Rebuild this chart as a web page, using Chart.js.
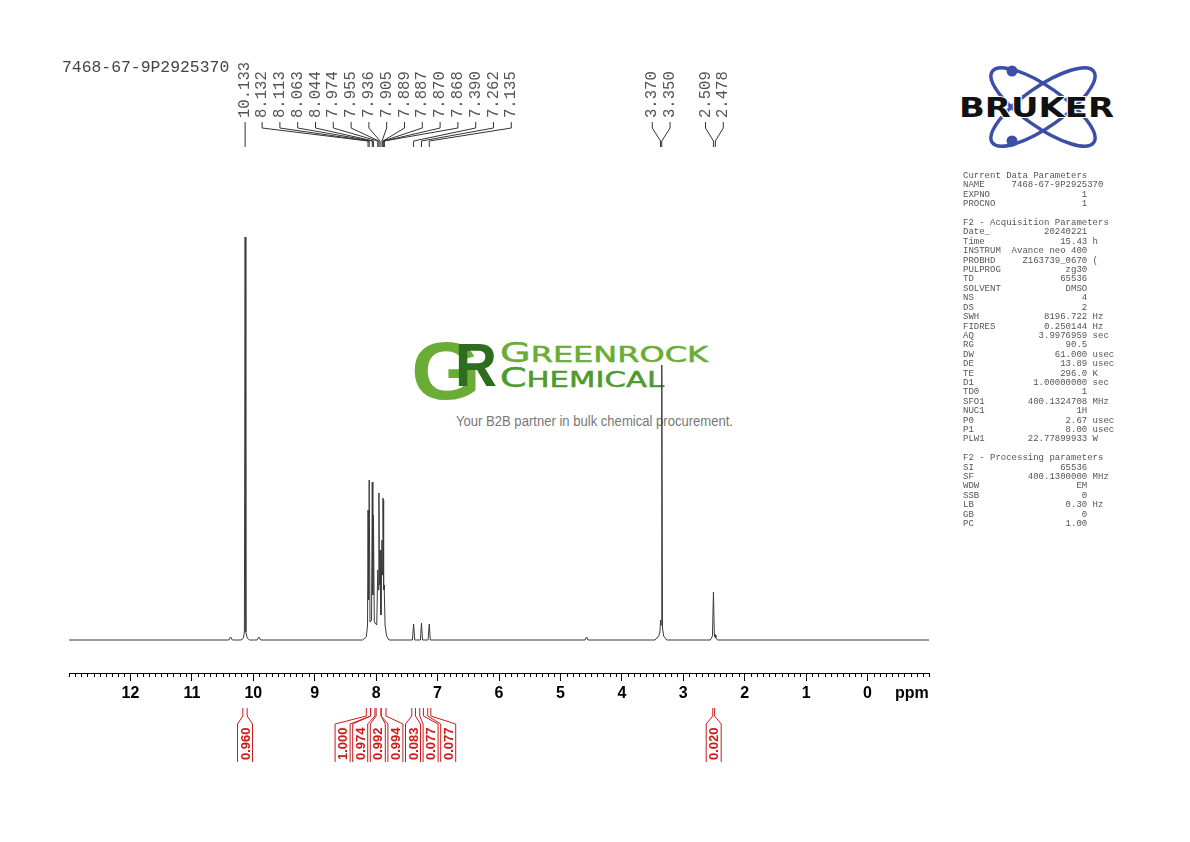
<!DOCTYPE html>
<html><head><meta charset="utf-8">
<script src="https://cdn.jsdelivr.net/npm/chart.js@4.4.1/dist/chart.umd.min.js"></script>
<style>
html,body{margin:0;padding:0;background:#fff;}
#wrap{position:relative;width:1190px;height:842px;overflow:hidden;background:#fff;}
#bg{position:absolute;left:0;top:0;z-index:1;}
#c{position:absolute;left:0;top:0;z-index:2;}
#title{position:absolute;left:62px;top:58px;font:16.4px "Liberation Mono",monospace;color:#444;z-index:3;white-space:pre;}
#params{position:absolute;left:963px;top:172px;font:9px/9.4px "Liberation Mono",monospace;color:#555;margin:0;z-index:3;}
</style></head>
<body><div id="wrap">
<svg id="bg" width="1190" height="842" xmlns="http://www.w3.org/2000/svg">
  <g>
    <ellipse cx="1043" cy="107" rx="62" ry="20" transform="rotate(35 1043 107)" fill="none" stroke="#3b4fa6" stroke-width="3.5"/>
    <ellipse cx="1043" cy="107" rx="62" ry="20" transform="rotate(-35 1043 107)" fill="none" stroke="#3b4fa6" stroke-width="3.5"/>
    <circle cx="1012" cy="71" r="5.5" fill="#3b4fa6"/>
    <circle cx="1012" cy="141" r="5.5" fill="#3b4fa6"/>
    <text x="959" y="117" font-family="DejaVu Sans" font-weight="bold" font-size="27" textLength="155" lengthAdjust="spacingAndGlyphs" fill="#111" stroke="#fff" stroke-width="2" paint-order="stroke">BRUKER</text>
  </g>
  <g>
    <text x="411" y="399" font-family="Liberation Sans" font-weight="bold" font-size="82" fill="#6aac35" textLength="70" lengthAdjust="spacingAndGlyphs">G</text>
    <text x="455" y="386" font-family="Liberation Sans" font-weight="bold" font-size="62" fill="#2e6c20" textLength="42" lengthAdjust="spacingAndGlyphs">R</text>
    <text x="500" y="362" font-family="DejaVu Sans" font-size="21" fill="#6aac35" stroke="#6aac35" stroke-width="0.5" textLength="208" lengthAdjust="spacingAndGlyphs"><tspan font-size="26">G</tspan>REENROCK</text>
    <text x="500" y="387" font-family="DejaVu Sans" font-size="21" fill="#4e9a2c" stroke="#4e9a2c" stroke-width="0.5" textLength="164" lengthAdjust="spacingAndGlyphs"><tspan font-size="26">C</tspan>HEMICAL</text>
    <text x="456" y="426" font-family="Liberation Sans" font-size="14" fill="#777" textLength="277" lengthAdjust="spacingAndGlyphs">Your B2B partner in bulk chemical procurement.</text>
  </g>
</svg>
<canvas id="c" width="1190" height="842"></canvas>
<div id="title">7468-67-9P2925370</div>
<pre id="params"></pre>
</div>
<script>
// ---------- DATA ----------
const specPpm = [13.00, 10.40, 10.37, 10.34, 10.20, 10.16, 10.145, 10.133, 10.121, 10.10, 10.06, 9.94, 9.91, 9.88,
  8.22, 8.16, 8.140, 8.132, 8.122, 8.113, 8.100, 8.075, 8.063, 8.054, 8.044, 8.030, 7.990, 7.974, 7.965, 7.955,
  7.946, 7.936, 7.922, 7.905, 7.896, 7.889, 7.887, 7.878, 7.870, 7.868, 7.855, 7.83, 7.79,
  7.41, 7.390, 7.372, 7.28, 7.262, 7.245, 7.155, 7.135, 7.118, 4.60, 4.575, 4.55,
  3.46, 3.40, 3.38, 3.370, 3.362, 3.350, 3.338, 3.32, 3.27, 2.56, 2.525, 2.509, 2.495, 2.485, 2.478, 2.470, 2.44, -1.00];
const specInt = [0, 0, 3, 0, 0, 2, 8, 403, 8, 2, 0, 0, 3, 0,
  0, 3, 15, 130, 40, 160, 18, 20, 158, 45, 125, 18, 15, 70, 50, 147,
  55, 90, 25, 100, 65, 142, 140, 50, 55, 50, 15, 4, 0,
  0, 16, 0, 0, 17, 0, 0, 16, 0, 0, 3, 0,
  0, 4, 8, 20, 15, 275, 12, 4, 0, 0, 4, 48, 6, 3, 5, 2, 0, 0];

const peakLabelPpm = [10.133, 8.132, 8.113, 8.063, 8.044, 7.974, 7.955, 7.936, 7.905, 7.889, 7.887, 7.870, 7.868,
  7.390, 7.262, 7.135, 3.370, 3.350, 2.509, 2.478];

const integralFrom = [10.17, 8.16, 8.09, 8.00, 7.92, 7.42, 7.29, 7.16, 2.52];
const integralTo   = [10.10, 8.09, 8.02, 7.92, 7.84, 7.36, 7.23, 7.11, 2.49];
const integralVal  = [0.960, 1.000, 0.974, 0.992, 0.994, 0.083, 0.077, 0.077, 0.020];

const xTickValues = [12, 11, 10, 9, 8, 7, 6, 5, 4, 3, 2, 1, 0];

const paramLines = (() => {
  const r = (l, v, u) => l + ' '.repeat(Math.max(1, 23 - l.length - v.length)) + v + (u ? ' ' + u : '');
  return [
    'Current Data Parameters',
    'NAME     7468-67-9P2925370',
    r('EXPNO', '1'), r('PROCNO', '1'), '',
    'F2 - Acquisition Parameters',
    r('Date_', '20240221'), r('Time', '15.43', 'h'), r('INSTRUM', 'Avance neo 400'),
    r('PROBHD', 'Z163739_0670', '('), r('PULPROG', 'zg30'), r('TD', '65536'), r('SOLVENT', 'DMSO'),
    r('NS', '4'), r('DS', '2'), r('SWH', '8196.722', 'Hz'), r('FIDRES', '0.250144', 'Hz'),
    r('AQ', '3.9976959', 'sec'), r('RG', '90.5'), r('DW', '61.000', 'usec'), r('DE', '13.89', 'usec'),
    r('TE', '296.0', 'K'), r('D1', '1.00000000', 'sec'), r('TD0', '1'), r('SFO1', '400.1324708', 'MHz'),
    r('NUC1', '1H'), r('P0', '2.67', 'usec'), r('P1', '8.00', 'usec'), r('PLW1', '22.77899933', 'W'), '',
    'F2 - Processing parameters',
    r('SI', '65536'), r('SF', '400.1300000', 'MHz'), r('WDW', 'EM'), r('SSB', '0'),
    r('LB', '0.30', 'Hz'), r('GB', '0'), r('PC', '1.00')
  ];
})();
document.getElementById('params').textContent = paramLines.join('\n');

// ---------- label spreading (layout) ----------
function spread(centers, gap, minGap) {
  const order = centers.map((c, i) => i).sort((a, b) => centers[a] - centers[b]);
  let groups = order.map(i => ({ idx: [i], sum: centers[i] }));
  let merged = true;
  while (merged) {
    merged = false;
    for (let k = 0; k < groups.length - 1; k++) {
      const a = groups[k], b = groups[k + 1];
      const aR = a.sum / a.idx.length + (a.idx.length - 1) * gap / 2;
      const bL = b.sum / b.idx.length - (b.idx.length - 1) * gap / 2;
      if (bL - aR < minGap) {
        a.idx = a.idx.concat(b.idx); a.sum += b.sum; groups.splice(k + 1, 1); merged = true; break;
      }
    }
  }
  const pos = [];
  groups.forEach(g => {
    const n = g.idx.length, m = g.sum / n;
    g.idx.forEach((i, j) => { pos[i] = m + (j - (n - 1) / 2) * gap; });
  });
  return pos;
}

const AX_FONT = '"Liberation Sans Narrow","Liberation Sans",Arial,sans-serif';

const nmrAnnot = {
  id: 'nmrAnnot',
  afterDraw(chart) {
    const ctx = chart.ctx, xs = chart.scales.x, axisY = chart.chartArea.bottom;
    ctx.save();
    // minor ticks
    ctx.strokeStyle = '#000'; ctx.lineWidth = 1;
    ctx.beginPath();
    for (let i = -10; i <= 130; i++) {
      if (i % 10 === 0 && i >= 0 && i <= 120) continue;
      const px = Math.round(xs.getPixelForValue(i / 10)) + 0.5;
      ctx.moveTo(px, axisY); ctx.lineTo(px, axisY + 4);
    }
    ctx.stroke();
    // ppm unit
    ctx.fillStyle = '#000';
    ctx.font = 'bold 16px ' + AX_FONT;
    ctx.textAlign = 'center'; ctx.textBaseline = 'middle';
    ctx.fillText('ppm', xs.getPixelForValue(-0.72), axisY + 21);

    // peak labels
    const pk = peakLabelPpm.map(p => xs.getPixelForValue(p));
    const lx = spread(pk, 17.8, 12);
    ctx.strokeStyle = '#333'; ctx.fillStyle = '#555';
    ctx.font = '15.6px "Liberation Mono", monospace';
    pk.forEach((p, i) => {
      ctx.beginPath();
      ctx.moveTo(lx[i], 122); ctx.lineTo(lx[i], 128); ctx.lineTo(p, 141); ctx.lineTo(p, 147);
      ctx.stroke();
      ctx.save();
      ctx.translate(lx[i], 118); ctx.rotate(-Math.PI / 2);
      ctx.textAlign = 'left'; ctx.textBaseline = 'middle';
      ctx.fillText(peakLabelPpm[i].toFixed(3), 0, 0);
      ctx.restore();
    });

    // integrals
    const ic = integralFrom.map((f, i) => (xs.getPixelForValue(f) + xs.getPixelForValue(integralTo[i])) / 2);
    const il = spread(ic, 17.6, 12);
    ctx.strokeStyle = '#cc1a1a'; ctx.fillStyle = '#cc1a1a';
    ctx.font = 'bold 13px "Liberation Sans", Arial, sans-serif';
    ic.forEach((c, i) => {
      const x1 = xs.getPixelForValue(integralFrom[i]), x2 = xs.getPixelForValue(integralTo[i]);
      const l = il[i], w = 7.5;
      ctx.beginPath();
      ctx.moveTo(x1, 708); ctx.lineTo(x1, 716); ctx.lineTo(l - w, 724); ctx.lineTo(l - w, 762);
      ctx.moveTo(x2, 708); ctx.lineTo(x2, 716); ctx.lineTo(l + w, 724); ctx.lineTo(l + w, 762);
      ctx.stroke();
      ctx.save();
      ctx.translate(l, 760); ctx.rotate(-Math.PI / 2);
      ctx.textAlign = 'left'; ctx.textBaseline = 'middle';
      ctx.fillText(integralVal[i].toFixed(3), 0, 1);
      ctx.restore();
    });
    ctx.restore();
  }
};

new Chart(document.getElementById('c'), {
  type: 'line',
  data: {
    datasets: [{
      data: specPpm.map((p, i) => ({ x: p, y: specInt[i] })),
      borderColor: '#3a3a3a', borderWidth: 1, pointRadius: 0, tension: 0, fill: false
    }]
  },
  options: {
    responsive: false, animation: false, events: [],
    layout: { padding: { left: 69, right: 261, top: 200, bottom: 139 } },
    plugins: { legend: { display: false }, tooltip: { enabled: false }, title: { display: false } },
    scales: {
      x: {
        type: 'linear', reverse: true, min: -1, max: 13,
        afterBuildTicks: s => { s.ticks = xTickValues.map(v => ({ value: v })); },
        afterFit: s => { s.height = 30; },
        grid: { drawOnChartArea: false, drawTicks: true, tickLength: 8, tickColor: '#000', color: '#000' },
        border: { display: true, color: '#000', width: 1 },
        ticks: { autoSkip: false, maxRotation: 0, padding: 3, color: '#000',
          font: { family: AX_FONT, size: 16, weight: 'bold' } }
      },
      y: { display: false, min: -33, max: 440 }
    }
  },
  plugins: [nmrAnnot]
});
</script>
</body></html>
